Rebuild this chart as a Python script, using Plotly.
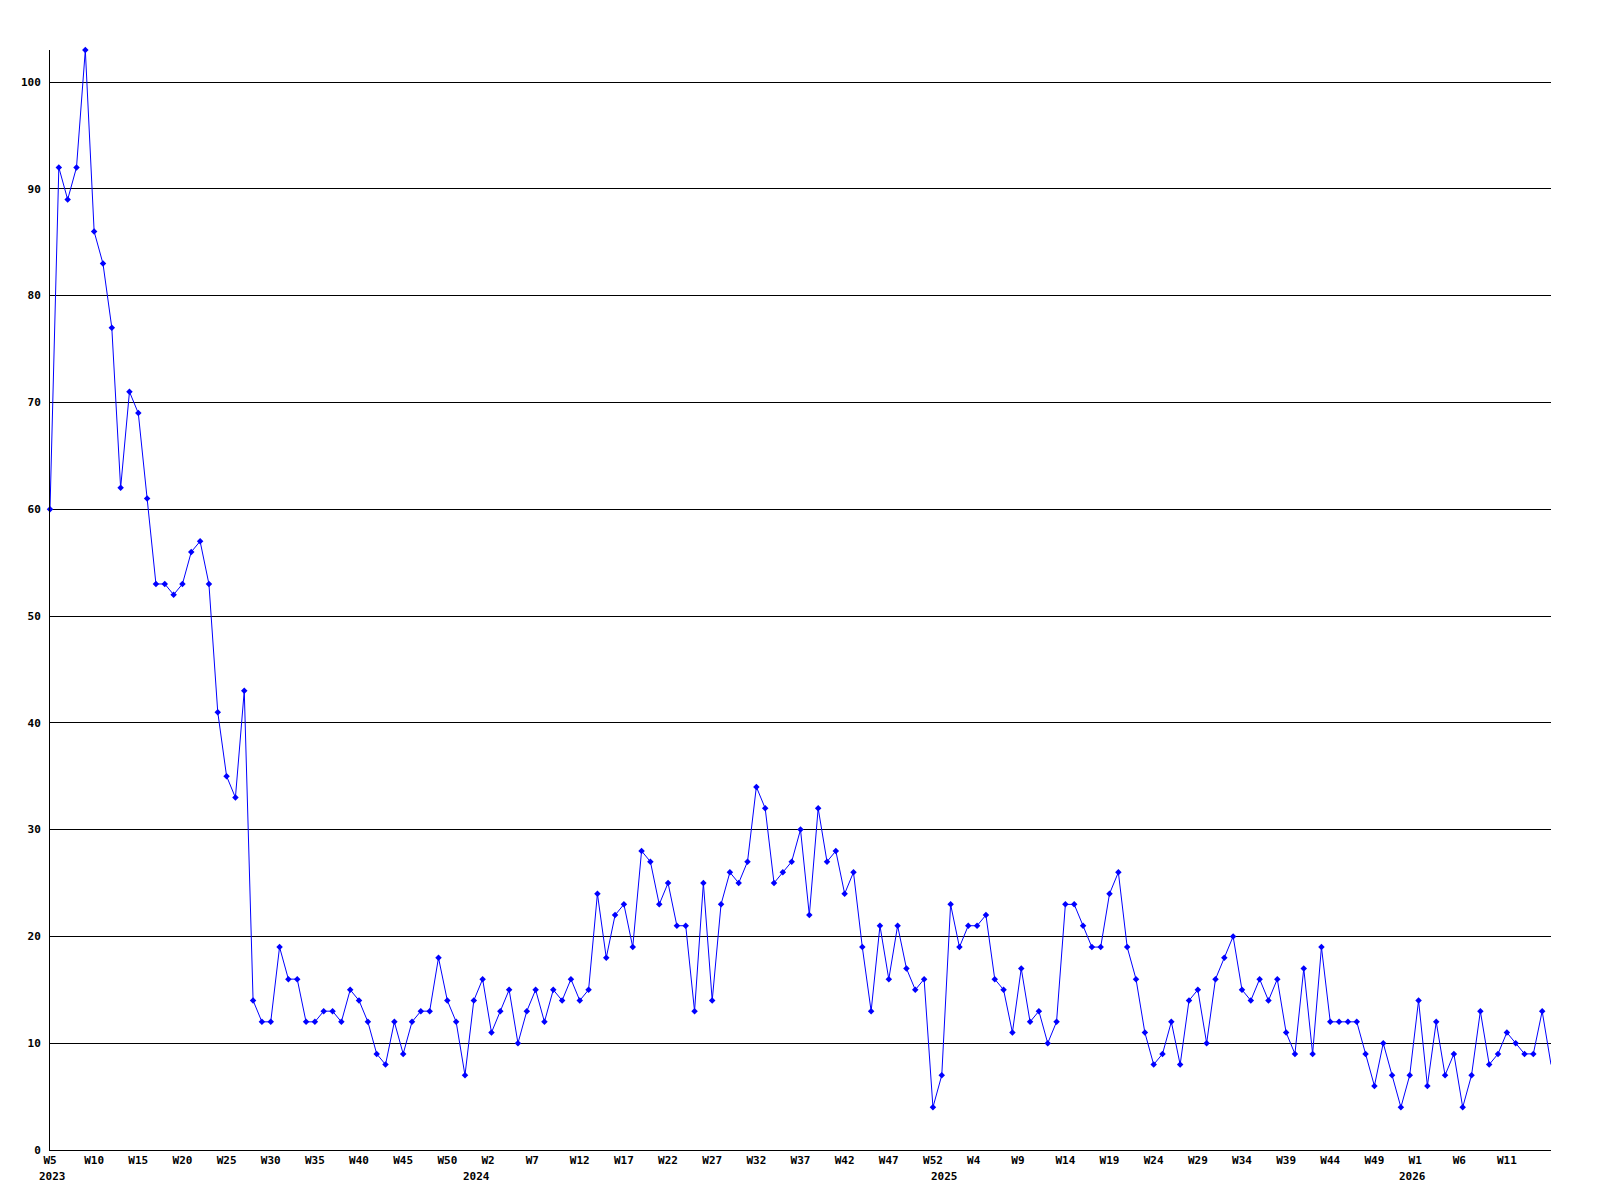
import plotly.graph_objects as go

# Weekly values (index 0 = 2023 W5)
values = [
    60, 92, 89, 92, 103, 86, 83, 77, 62, 71,
    69, 61, 53, 53, 52, 53, 56, 57, 53, 41,
    35, 33, 43, 14, 12, 12, 19, 16, 16, 12,
    12, 13, 13, 12, 15, 14, 12, 9, 8, 12,
    9, 12, 13, 13, 18, 14, 12, 7, 14, 16,
    11, 13, 15, 10, 13, 15, 12, 15, 14, 16,
    14, 15, 24, 18, 22, 23, 19, 28, 27, 23,
    25, 21, 21, 13, 25, 14, 23, 26, 25, 27,
    34, 32, 25, 26, 27, 30, 22, 32, 27, 28,
    24, 26, 19, 13, 21, 16, 21, 17, 15, 16,
    4, 7, 23, 19, 21, 21, 22, 16, 15, 11,
    17, 12, 13, 10, 12, 23, 23, 21, 19, 19,
    24, 26, 19, 16, 11, 8, 9, 12, 8, 14,
    15, 10, 16, 18, 20, 15, 14, 16, 14, 16,
    11, 9, 17, 9, 19, 12, 12, 12, 12, 9,
    6, 10, 7, 4, 7, 14, 6, 12, 7, 9,
    4, 7, 13, 8, 9, 11, 10, 9, 9, 13,
    8,
]

# Week tick labels (every 5th point)
tick_idx = list(range(0, 170, 5))
tick_labels = [
    "W5", "W10", "W15", "W20", "W25", "W30", "W35", "W40", "W45", "W50",
    "W2", "W7", "W12", "W17", "W22", "W27", "W32", "W37", "W42", "W47", "W52",
    "W4", "W9", "W14", "W19", "W24", "W29", "W34", "W39", "W44", "W49",
    "W1", "W6", "W11",
]

# Year labels
years = ["2023", "2024", "2025", "2026"]
year_idx = [0, 48, 101, 154]

x = list(range(len(values)))
FONT = "DejaVu Sans Mono"

# small left shift for short labels (labels are left-aligned in the original)
tickvals = [max(0, i - (3 - len(t)) * 0.38) for i, t in zip(tick_idx, tick_labels)]

# the last point's marker is cut off at the plot edge in the original
marker_opacity = [1] * (len(values) - 1) + [0]

fig = go.Figure()
fig.add_trace(go.Scatter(
    x=x, y=values, mode="lines+markers",
    line=dict(color="#0000ff", width=1),
    marker=dict(symbol="diamond", size=5, color="#0000ff", opacity=marker_opacity),
    hoverinfo="x+y", showlegend=False, cliponaxis=False,
))

for yr, xi in zip(years, year_idx):
    fig.add_annotation(
        x=xi, y=0, xref="x", yref="paper",
        text=yr, showarrow=False,
        xanchor="left", yanchor="middle",
        xshift=-13, yshift=-26,
        font=dict(family=FONT, size=11, color="black", weight="bold"),
    )

fig.update_layout(
    template="none",
    width=1600, height=1200,
    margin=dict(l=42, r=57, t=42, b=58, autoexpand=False),
    paper_bgcolor="white", plot_bgcolor="white",
    font=dict(family=FONT, size=11, color="black"),
    xaxis=dict(
        range=[0, 170], showgrid=False, zeroline=False,
        showline=True, linecolor="black", linewidth=1,
        tickmode="array", tickvals=tickvals, ticktext=tick_labels,
        ticks="", ticklabelstandoff=0,
        tickfont=dict(family=FONT, size=11, color="black", weight="bold"),
    ),
    yaxis=dict(
        range=[0, 103], dtick=10, tick0=0,
        showgrid=True, gridcolor="black", gridwidth=1,
        zeroline=False, showline=True, linecolor="black", linewidth=1,
        ticks="", ticklabelstandoff=6,
        tickfont=dict(family=FONT, size=11, color="black", weight="bold"),
    ),
)

fig.write_html("out.html")
